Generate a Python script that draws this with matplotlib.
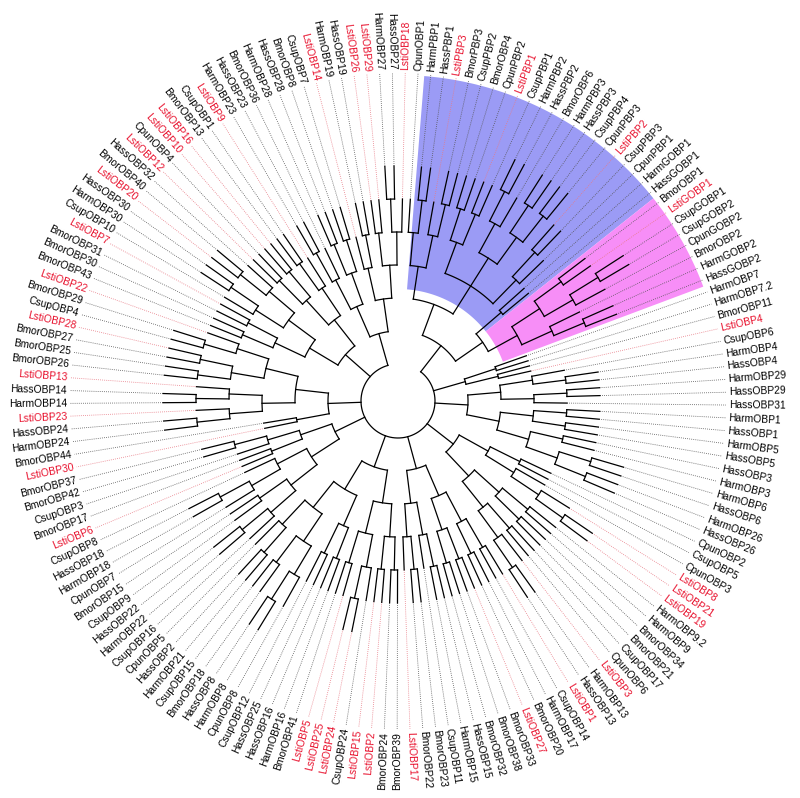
import numpy as np
import matplotlib
matplotlib.use("Agg")
import matplotlib.pyplot as plt

clade_A = [[[["CpunOBP1", ["HarmPBP1", "HassPBP1"]], ["LstiPBP3", ["BmorPBP3", "CsupPBP2"]]],
            [[["BmorOBP4", "CpunPBP2"], ["LstiPBP1", "CsupPBP1"]],
             [[["HarmPBP2", "HassPBP2"], "BmorOBP6"], [["HarmPBP3", "HassPBP3"], ["CsupPBP4", "CpunPBP3"]]],
             [["LstiPBP2", "CsupPBP3"], "CpunPBP1"]]],
           [["HarmGOBP1", "HassGOBP1"],
            [[["BmorOBP1", "LstiGOBP1"], [["CsupGOBP1", "CsupGOBP2"], "CpunGOBP2"]],
             ["BmorOBP2", ["HarmGOBP2", "HassGOBP2"]]]]]
clade_B = [["HarmOBP7", "HarmOBP7.2"], ["BmorOBP11", "LstiOBP4"]]
clade_C = [[["CsupOBP6", ["HarmOBP4", "HassOBP4"]], [["HarmOBP29", "HassOBP29"], "HassOBP31"]],
           [[["HarmOBP1", "HassOBP1"], ["HarmOBP5", "HassOBP5"]],
            [["HassOBP3", "HarmOBP3"], [["HarmOBP6", "HassOBP6"], ["HarmOBP26", "HassOBP26"]]]]]
clade_D = [[["CpunOBP2", "CsupOBP5"], ["CpunOBP3", ["LstiOBP8", ["LstiOBP21", "LstiOBP19"]]]],
           [[["HarmOBP9.2", "HarmOBP9"], ["BmorOBP34", "BmorOBP21"]],
            [["CsupOBP17", "CpunOBP6"], ["LstiOBP3", ["HarmOBP13", "HassOBP13"]]]]]
clade_E = [[["LstiOBP1", "CsupOBP14"], ["HarmOBP17", "BmorOBP20"]],
           [["LstiOBP27", "BmorOBP33"], ["BmorOBP38", "BmorOBP32"]]]
clade_F = [[["HassOBP15", "HarmOBP15"], "CsupOBP11"], [["BmorOBP23", "BmorOBP22"], "LstiOBP17"]]
clade_G = [[["BmorOBP39", "BmorOBP24"], ["LstiOBP2", "LstiOBP15"]],
           [["CsupOBP24", ["LstiOBP24", "LstiOBP25"]], ["LstiOBP5", "BmorOBP41"]]]
clade_H = [[["HarmOBP16", "HassOBP16"], ["HassOBP25", "CsupOBP12"]],
           [[["CpunOBP8", ["HarmOBP8", "HassOBP8"]], ["BmorOBP18", "CsupOBP15"]],
            [["HarmOBP21", "HassOBP2"], "CpunOBP5"]]]
clade_I = [[["CsupOBP16", ["HarmOBP22", "HassOBP22"]], ["CsupOBP9", "BmorOBP15"]],
           [["CpunOBP7", ["HarmOBP18", "HassOBP18"]], "CsupOBP8"]]
clade_J = [["LstiOBP6", "BmorOBP17"], ["CsupOBP3", ["BmorOBP42", "BmorOBP37"]]]
clade_K = ["LstiOBP30", "BmorOBP44"]
clade_L = [[[["HarmOBP24", "HassOBP24"], "LstiOBP23"], [["HarmOBP14", "HassOBP14"], "LstiOBP13"]],
           [[["BmorOBP26", "BmorOBP25"], ["BmorOBP27", "LstiOBP28"]], [["CsupOBP4", "BmorOBP29"], "LstiOBP22"]]]
clade_M = [[["BmorOBP43", "BmorOBP30"], ["BmorOBP31", "LstiOBP7"]],
           [["CsupOBP10", ["HarmOBP30", "HassOBP30"]], [["LstiOBP20", "BmorOBP40"], "HassOBP32"]]]
clade_N = [[["LstiOBP12", "CpunOBP4"], ["LstiOBP10", "LstiOBP16"]], [["BmorOBP13", "CsupOBP1"], "LstiOBP9"]]
clade_O = [[["HarmOBP23", "HassOBP23"], "BmorOBP36"], [["HarmOBP28", "HassOBP28"], ["BmorOBP8", "CsupOBP7"]]]
clade_P = [["LstiOBP14", ["HarmOBP19", "HassOBP19"]],
           [["LstiOBP26", "LstiOBP29"], [["HarmOBP27", "HassOBP27"], "LstiOBP18"]]]

tree = [clade_A, clade_B, clade_C, clade_D, [clade_E, clade_F], [clade_G, clade_H],
        [clade_I, clade_J], [clade_K, clade_L], [clade_M, clade_N], [clade_O, clade_P]]

blue_range = ("HarmPBP1", "HassGOBP1")
pink_range = ("BmorOBP1", "HassGOBP2")

leaves = []
def collect(n):
    if isinstance(n, str):
        leaves.append(n)
    else:
        for c in n:
            collect(c)
collect(tree)
N = len(leaves)
step = 360.0 / N
start = 86.5
ang = {name: start - i * step for i, name in enumerate(leaves)}

cx, cy = 398, 401
R0, DR, RMAX, RLAB = 37, 33, 295, 328

fig = plt.figure(figsize=(8, 7.98), dpi=100)
ax = fig.add_axes([0, 0, 1, 1])
ax.set_xlim(0, 800)
ax.set_ylim(798, 0)
ax.set_aspect("equal")
ax.axis("off")

def xy(r, a):
    t = np.radians(a)
    return cx + r * np.cos(t), cy - r * np.sin(t)

def wedge(names, rin, color):
    a1 = ang[names[0]] + step / 2
    a2 = ang[names[1]] - step / 2
    th = np.linspace(np.radians(a2), np.radians(a1), 100)
    xo = cx + (RLAB - 2) * np.cos(th); yo = cy - (RLAB - 2) * np.sin(th)
    xi = cx + rin * np.cos(th[::-1]); yi = cy - rin * np.sin(th[::-1])
    ax.fill(np.r_[xo, xi], np.r_[yo, yi], color=color, lw=0, zorder=0)

wedge(blue_range, 112, "#9b9bf5")
wedge(pink_range, 112, "#f78ef7")

lr = {}
def draw(n, depth):
    if isinstance(n, str):
        r = min(R0 + depth * DR, RMAX)
        lr[n] = r
        return ang[n], r
    r = R0 + depth * DR
    res = [draw(c, depth + 1) for c in n]
    for a, rc in res:
        x0, y0 = xy(r, a); x1, y1 = xy(rc, a)
        ax.plot([x0, x1], [y0, y1], color="black", lw=0.9, zorder=2)
    angs = [a for a, _ in res]
    th = np.linspace(np.radians(min(angs)), np.radians(max(angs)), 80)
    ax.plot(cx + r * np.cos(th), cy - r * np.sin(th), color="black", lw=0.9, zorder=2)
    return (max(angs) + min(angs)) / 2, r

draw(tree, 0)

for name in leaves:
    a = ang[name]
    red = name.startswith("Lsti")
    col = "#e8112d" if red else "black"
    x0, y0 = xy(lr[name], a); x1, y1 = xy(RLAB, a)
    ax.plot([x0, x1], [y0, y1], ls=(0, (1, 1.5)), lw=0.6,
            color="#e87a85" if red else "#555555", zorder=1)
    tx, ty = xy(RLAB + 3, a)
    an = a % 360
    if 90 < an < 270:
        rot, ha = an - 180, "right"
    else:
        rot, ha = an, "left"
    ax.text(tx, ty, name, rotation=rot, ha=ha, va="center", rotation_mode="anchor",
            fontsize=7.4, family="Liberation Sans", color=col)

fig.savefig("out.png", dpi=100)
